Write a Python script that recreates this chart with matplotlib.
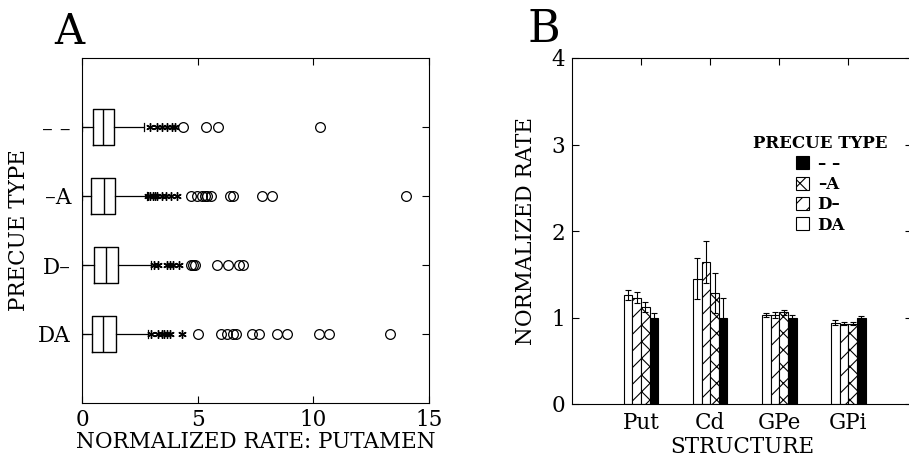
import numpy as np
import matplotlib.pyplot as plt
from matplotlib.patches import Patch

plt.rcParams['font.family'] = ['DejaVu Serif']
plt.rcParams['hatch.linewidth'] = 0.8

# ---- panel A : box plots of putamen rate by precue type
cues = ['DA', 'D–', '–A', '– –']
q1 = [0.45, 0.53, 0.37, 0.46]
med = [0.92, 1.04, 0.95, 0.89]
q3 = [1.47, 1.57, 1.41, 1.37]
wlo = [0.02, 0.02, 0.02, 0.02]
whi = [2.87, 3.00, 2.80, 2.68]
stars = [
    [2.98, 3.30, 3.44, 3.55, 3.66, 3.80, 4.31],
    [3.11, 3.30, 3.66, 3.80, 3.95, 4.20],
    [2.85, 2.95, 3.05, 3.15, 3.25, 3.45, 3.62, 3.85, 4.10],
    [2.94, 3.23, 3.44, 3.66, 3.88, 4.02],
]
circles = [
    [5.01, 6.00, 6.25, 6.54, 6.66, 7.33, 7.67, 8.41, 8.88, 10.26, 10.69, 13.31],
    [4.71, 4.81, 4.88, 5.82, 6.31, 6.80, 6.97],
    [4.70, 4.96, 5.17, 5.32, 5.42, 5.56, 6.40, 6.54, 7.78, 8.20, 13.99],
    [4.38, 5.36, 5.88, 10.30],
]

# ---- panel B : mean normalized rate per structure
structs = ['Put', 'Cd', 'GPe', 'GPi']
series = ['DA', 'D–', '–A', '– –']
rate = {
    'DA': [1.26, 1.45, 1.03, 0.94],
    'D–': [1.23, 1.645, 1.03, 0.93],
    '–A': [1.12, 1.28, 1.06, 0.93],
    '– –': [1.00, 1.00, 1.00, 1.00],
}
sem = {
    'DA': [0.06, 0.24, 0.025, 0.03],
    'D–': [0.06, 0.245, 0.03, 0.02],
    '–A': [0.06, 0.23, 0.03, 0.02],
    '– –': [0.05, 0.23, 0.03, 0.02],
}
fills = {'DA': 'white', 'D–': 'white', '–A': 'white', '– –': 'black'}
hatches = {'DA': '', 'D–': '//', '–A': 'xx', '– –': ''}

fig = plt.figure(figsize=(9.09, 4.58), dpi=100)

axA = fig.add_axes([82/909, 55/458, 347/909, 345/458])
stats = []
for i in range(len(cues)):
    stats.append(dict(med=med[i], q1=q1[i], q3=q3[i], whislo=wlo[i],
                      whishi=whi[i], fliers=[]))
pos = np.arange(1, len(cues) + 1)
axA.bxp(stats, positions=pos, vert=False, widths=0.52, showfliers=False,
        boxprops=dict(color='black', lw=1.0),
        medianprops=dict(color='black', lw=1.0),
        whiskerprops=dict(color='black', lw=0.9),
        capprops=dict(color='black', lw=0.9), capwidths=0.12)
for i in range(len(cues)):
    axA.plot(stars[i], [pos[i]] * len(stars[i]), ls='none', marker=(6, 2, 0),
             ms=6, mec='black', mew=1.0)
    axA.plot(circles[i], [pos[i]] * len(circles[i]), ls='none', marker='o',
             ms=7, mfc='none', mec='black', mew=0.9)
axA.set_xlim(0, 15)
axA.set_ylim(0, 5)
axA.set_xticks([0, 5, 10, 15])
axA.set_yticks(pos)
axA.set_yticklabels(cues)
axA.tick_params(direction='in', top=True, right=True, length=5, width=0.8,
                labelsize=15.5, pad=8)
axA.tick_params(axis='x', pad=4)
axA.set_xlabel('NORMALIZED RATE: PUTAMEN', fontsize=15.5, labelpad=0)
axA.set_ylabel('PRECUE TYPE', fontsize=15.5, labelpad=6)
fig.text(54/909, 1 - 44/458, 'A', fontsize=30)

# ---- panel B
axB = fig.add_axes([572/909, 54/458, 340/909, 346/458])
x = np.arange(1, len(structs) + 1)
bw = 0.125
handles = {}
for k, s in enumerate(series):
    xs = x - 0.1875 + k * bw
    axB.bar(xs, rate[s], bw, color=fills[s], edgecolor='black',
            hatch=hatches[s], lw=0.8, zorder=2)
    axB.errorbar(xs, rate[s], yerr=sem[s], fmt='none', ecolor='black',
                 elinewidth=0.8, capsize=2, capthick=0.8, zorder=3)
    handles[s] = Patch(facecolor=fills[s], edgecolor='black', hatch=hatches[s],
                       lw=0.8)
axB.set_xlim(0, 4.92)
axB.set_ylim(0, 4)
axB.set_yticks([0, 1, 2, 3, 4])
axB.set_xticks(x)
axB.set_xticklabels(structs)
axB.tick_params(direction='in', top=True, right=True, length=5, width=0.8,
                labelsize=15.5, pad=5)
axB.tick_params(axis='x', bottom=False, pad=6)
axB.set_xlabel('STRUCTURE', fontsize=15.5, labelpad=1)
axB.set_ylabel('NORMALIZED RATE', fontsize=15.5, labelpad=10)
leg_order = ['– –', '–A', 'D–', 'DA']
leg = axB.legend([handles[s] for s in leg_order], leg_order,
                 title='PRECUE TYPE', frameon=False, loc='upper left',
                 bbox_to_anchor=(745/909, 1 - 127/458),
                 bbox_transform=fig.transFigure, handlelength=0.8,
                 handleheight=0.8, handletextpad=0.5, labelspacing=0.2,
                 borderpad=0, prop=dict(size=12, weight='bold'),
                 title_fontproperties=dict(size=12, weight='bold'))
fig.text(528/909, 1 - 42/458, 'B', fontsize=32)

fig.savefig('out.png', dpi=100)
